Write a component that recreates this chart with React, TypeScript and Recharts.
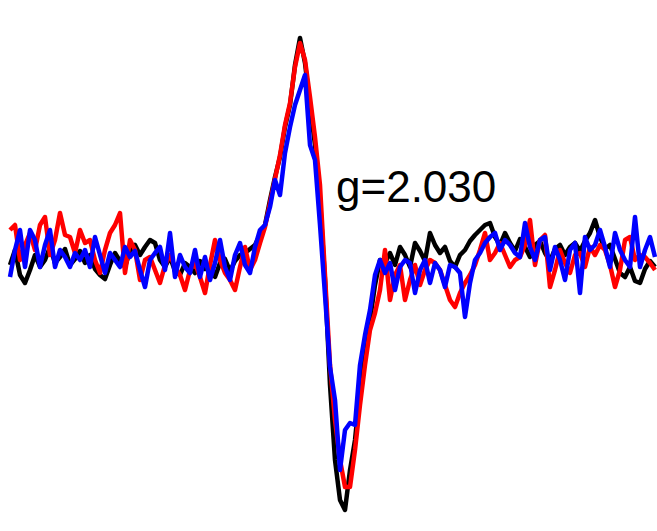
import { LineChart, Line, XAxis, YAxis } from "recharts"

// derivative EPR signal, arbitrary units, 130 field points left to right
const black = [
  -10, 5, -20, -28, -15, 0, -12, -5, 8, -8,
  -2, 6, -10, -4, 4, -8, 0, -14, -20, -24,
  -10, 2, -6, -12, 4, 10, 0, 8, 15, 12,
  -5, -12, -2, -16, -20, -8, -12, -18, -6, -14,
  -10, -22, -8, -4, -16, -6, 0, 2, 6, 10,
  20, 30, 55, 78, 98, 128, 150, 190, 217, 192,
  150, 110, 55, -25, -130, -205, -245, -255, -215, -185,
  -135, -95, -65, -30, -5, -8, 2, -10, 8, 0,
  -12, 12, 4, -6, 22, 10, 2, 8, -6, -12,
  0, 5, 14, 20, 25, 30, 32, 18, 10, 22,
  12, 4, 16, 8, -2, 10, 14, 2, -6, 6,
  10, 0, 8, 12, 4, 14, 22, 35, 18, 6,
  10, -4, -18, -22, -12, -26, -28, -14, -6, -12,
]

const red = [
  25, 30, -5, 10, 22, 5, 30, 38, 0, 15,
  42, 20, 18, 2, 25, 12, 15, -5, -18, 5,
  22, 30, 42, -18, 15, 5, -25, -5, -2, -15,
  -28, -10, 0, -12, -20, -35, -15, -8, -22, -38,
  -10, 15, -5, -18, -25, -35, -12, 8, -15, -5,
  12, 28, 52, 76, 100, 130, 152, 188, 212, 195,
  158, 118, 70, -20, -110, -165, -205, -232, -232, -195,
  -150, -110, -75, -58, -35, 5, -45, -20, -10, -45,
  -25, -10, -30, -15, -5, -8, -15, -30, -45, -52,
  -38, -28, -20, -10, 5, 22, -5, 2, 12, 0,
  -12, -5, -2, 10, 35, -10, 15, 20, -32, -15,
  5, -8, -18, 0, 2, -12, 8, 0, 10, 5,
  -10, -32, -15, 15, 18, -5, 0, -2, -8, -15,
]

const blue = [
  -22, 5, 25, -12, 25, 15, -12, 10, 25, -12,
  5, -2, -12, 2, -5, 5, -12, 18, 0, -18,
  2, -5, -12, 8, -2, 4, -15, -32, -5, 2,
  8, -15, 22, -22, 0, -12, -18, 5, -22, -2,
  -25, -8, 15, -12, -25, 0, 12, -10, -18, 8,
  25, 30, 48, 75, 60, 102, 128, 150, 165, 180,
  110, 95, 30, -40, -112, -145, -215, -175, -168, -170,
  -110, -80, -55, -20, -5, -18, -8, -35, -12, -5,
  -8, -38, -15, -5, -28, -8, -15, -32, -10, -12,
  -18, -62, -28, -5, 2, 12, 18, 22, 5, 15,
  10, 2, -2, 32, 8, -5, 15, 18, -15, 8,
  -5, -25, 5, 12, -38, 18, 5, 10, 25, 8,
  -12, 22, 5, -5, -12, 38, -12, 5, 18, -2,
]

const gLabel = "g=2.030"

const data = black.map((b, i) => ({ i, black: b, red: red[i], blue: blue[i] }))

export default function App() {
  return (
    <div style={{ position: "absolute", left: 0, top: 0, width: 657, height: 531, background: "#fff" }}>
      <LineChart width={657} height={531} data={data} margin={{ top: 0, right: 2, bottom: 0, left: 10 }}>
        <XAxis dataKey="i" type="category" hide />
        <YAxis type="number" domain={[-276, 255]} allowDataOverflow hide />
        <Line type="linear" dataKey="black" stroke="#000000" strokeWidth={4.5} strokeLinejoin="round" dot={false} isAnimationActive={false} />
        <Line type="linear" dataKey="red" stroke="#ff0000" strokeWidth={4.5} strokeLinejoin="round" dot={false} isAnimationActive={false} />
        <Line type="linear" dataKey="blue" stroke="#0000ff" strokeWidth={4.5} strokeLinejoin="round" dot={false} isAnimationActive={false} />
      </LineChart>
      <div
        style={{
          position: "absolute",
          left: 336,
          top: 162,
          fontFamily: "'Liberation Sans', Arial, sans-serif",
          fontSize: 44,
          lineHeight: "50px",
          color: "#000",
          whiteSpace: "nowrap",
        }}
      >
        {gLabel}
      </div>
    </div>
  )
}
